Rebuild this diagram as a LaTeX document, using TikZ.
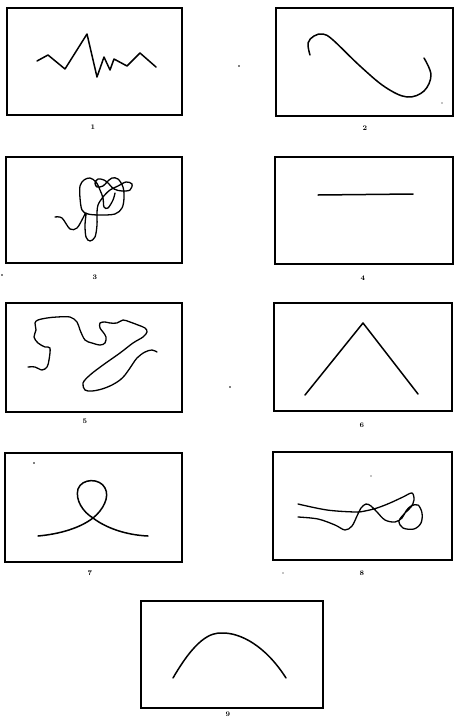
\documentclass[tikz,border=0pt]{standalone}
\usepackage{tikz}
\begin{document}
\begin{tikzpicture}[x=1pt,y=-1pt,
  panel/.style={draw=black,line width=1.1pt},
  curve/.style={draw=black,line width=1.5pt,line join=round,line cap=round},
  lab/.style={font=\fontsize{7}{7}\selectfont\bfseries,inner sep=0pt},
  speck/.style={fill=black}]
\useasboundingbox (0,0) rectangle (454,723);
% panels
\draw[panel] (7,8) rectangle (182,115);
\draw[panel] (276,8) rectangle (453,116);
\draw[panel] (6,157) rectangle (182,263);
\draw[panel] (275,157) rectangle (453,264);
\draw[panel] (6,303) rectangle (182,412);
\draw[panel] (274,303) rectangle (452,411);
\draw[panel] (5,453) rectangle (182,562);
\draw[panel] (273,452) rectangle (452,560);
\draw[panel] (141,601) rectangle (323,708);
% labels
\node[lab] (l1) at (93,127) {1};
\node[lab] (l2) at (365,128) {2};
\node[lab] (l3) at (95,277) {3};
\node[lab] (l4) at (363,278) {4};
\node[lab] (l5) at (85,421) {5};
\node[lab] (l6) at (362,425) {6};
\node[lab] (l7) at (90,573) {7};
\node[lab] (l8) at (362,573) {8};
\node[lab] (l9) at (228,714) {9};
% 1 zigzag
\draw[curve] (37,61) -- (48,55) -- (65,69) -- (87,34) -- (97,77) -- (104,57) -- (110,70) -- (114,59) -- (127,66) -- (140,53) -- (156,67);
% 2 hook curve
\draw[curve] plot[smooth,tension=0.6] coordinates {(310,55) (308,43) (314,36) (323,34) (333,40) (360,66) (385,87) (407,97) (424,91) (431,75) (424,58)};
% 3 scribble
\draw[curve,line width=1.3pt] plot[smooth,tension=0.55] coordinates {(55,217) (62,218) (70,229) (77,228) (83,218) (86,213) (85,225) (86,237) (90,241) (95,237) (97,225) (97,213) (98,205) (103,197) (110,190) (118,186) (126,182) (132,184) (130,190) (122,191) (114,189) (108,183) (104,180) (98,179) (95,183) (97,187) (103,186) (107,182) (112,178) (118,179) (123,187) (124,198) (122,208) (115,214) (100,215) (88,214) (82,210) (80,198) (80,186) (84,180) (90,178) (96,182) (100,190) (103,198) (104,207) (108,208) (113,200) (115,193)};
% 4 line
\draw[curve] (318,195) -- (413,194);
% 5 wiggly curves
\draw[curve,line width=1.3pt] plot[smooth,tension=0.55] coordinates {(28,367) (35,367) (42,370) (47,367) (49,360) (50,348) (45,347) (38,343) (34,337) (36,330) (35,323) (38,320) (47,318) (57,317) (70,317) (77,322) (80,330) (85,340) (92,343) (100,345) (105,343) (106,337) (103,332) (100,328) (100,323) (105,322) (110,323) (117,323) (123,320) (130,322) (138,325) (145,328) (147,332) (143,337) (133,343) (120,353) (103,365) (90,375) (83,383) (85,390) (92,391) (102,389) (112,385) (120,380) (125,375) (130,368) (137,358) (145,352) (152,350) (157,352)};
% 6 caret
\draw[curve] (305,395) -- (363,323) -- (418,394);
% 7 loop
\draw[curve] (38,536) .. controls (60,534) and (80,528) .. (93,518)
  .. controls (103,510) and (110,497) .. (105,488)
  .. controls (100,478) and (82,478) .. (78,489)
  .. controls (75,500) and (83,512) .. (93,518)
  .. controls (106,528) and (126,535) .. (148,536);
% 8 tangle
\draw[curve,line width=1.3pt] plot[smooth,tension=0.55] coordinates {(298,504) (327,510) (355,512) (365,511) (377,508) (390,503) (403,497) (412,493) (414,500) (411,507) (405,513) (399,521) (403,528) (414,529) (421,523) (422,513) (418,505) (411,506) (406,511) (402,518) (395,522) (385,520) (377,512) (371,506) (366,504) (361,508) (357,516) (352,526) (345,530) (335,525) (318,519) (298,517)};
% 9 arch
\draw[curve] (173,678) .. controls (195,640) and (210,632) .. (223,633) .. controls (240,633) and (265,645) .. (286,678);
% specks
\fill[speck] (239,66) circle (0.8);
\fill[speck] (442,103) circle (0.7);
\fill[speck] (230,387) circle (0.9);
\fill[speck] (34,463) circle (0.9);
\fill[speck] (371,476) circle (0.7);
\fill[speck] (283,573) circle (0.6);
\fill[speck] (2,275) circle (0.8);
\end{tikzpicture}
\end{document}
